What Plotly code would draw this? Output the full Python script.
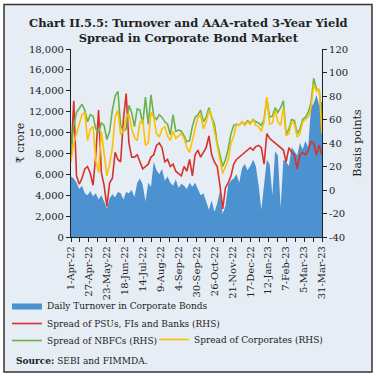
import pandas as pd
import plotly.graph_objects as go

# ---------------- data ----------------
start_date = "2022-04-01"
n_points = 92  # every 4 days, 1-Apr-22 .. 31-Mar-23

turnover = [5800, 5600, 5200, 4600, 4900, 4200, 4000, 4400, 3900, 4200,
            3600, 4000, 3400, 2700, 3700, 4100, 3800, 4300, 4200, 3600,
            4300, 4200, 4500, 3800, 5200, 5600, 5000, 3400, 5200, 4800,
            7200, 6400, 6000, 6500, 5400, 5800, 5200, 4900, 5500, 4700,
            5100, 4900, 4600, 5200, 4800, 5200, 4600, 4000, 4200, 3400,
            2600, 3500, 2400, 3200, 4400, 2200, 3000, 5000, 5400, 5600,
            6000, 5200, 6600, 7000, 6400, 6800, 7400, 6800, 5000, 2600,
            4800, 7400, 7000, 4000, 8200, 7800, 2800, 7400, 7200, 6800,
            8600, 8200, 7800, 9000, 8400, 9200, 8600, 12400, 12800, 13600,
            12600, 13000]

spread_psu = [28, 76, 12, 5, 10, 18, 20, 14, 4, 30,
              68, 15, 4, -14, 6, 10, 32, 26, 24, 60,
              82, 40, 28, 28, 30, 24, 18, 20, 22, 28,
              30, 38, 40, 36, 24, 26, 20, 22, 16, 14,
              12, 20, 16, 26, 12, 30, 34, 28, 32, 36,
              46, 30, 24, 20, 4, -16, 2, 6, 12, 22,
              26, 28, 30, 32, 34, 36, 34, 37, 38, 36,
              22, 48, 44, 42, 40, 38, 36, 34, 24, 36,
              32, 30, 18, 30, 32, 30, 34, 41, 40, 30,
              38, 30]

spread_nbfc = [32, 55, 66, 70, 73, 68, 58, 64, 63, 52,
               49, 57, 55, 43, 50, 68, 80, 84, 55, 50,
               52, 72, 66, 54, 69, 68, 56, 79, 56, 81,
               63, 60, 64, 62, 58, 56, 47, 64, 50, 51,
               50, 46, 41, 42, 54, 62, 64, 68, 58, 62,
               70, 62, 56, 40, 30, 20, 26, 35, 48, 55,
               56, 55, 58, 56, 59, 57, 60, 58, 57, 55,
               60, 78, 62, 63, 70, 66, 70, 76, 47, 52,
               60, 59, 48, 52, 60, 62, 66, 74, 95, 86,
               85, 58]

spread_corp = [24, 40, 48, 55, 64, 66, 42, 52, 54, 25,
               15, 50, 30, 12, 22, 36, 62, 68, 47, 50,
               62, 65, 52, 45, 42, 58, 60, 38, 40, 66,
               62, 48, 45, 52, 54, 46, 42, 50, 44, 46,
               48, 44, 36, 32, 42, 50, 62, 64, 52, 58,
               68, 62, 50, 38, 24, 14, 20, 26, 40, 46,
               56, 55, 58, 55, 58, 56, 60, 55, 54, 50,
               58, 79, 56, 57, 68, 58, 55, 70, 46, 48,
               58, 56, 45, 48, 58, 60, 62, 70, 90, 84,
               86, 48]

tick_labels = ["1-Apr-22", "27-Apr-22", "23-May-22", "18-Jun-22", "14-Jul-22",
               "9-Aug-22", "4-Sep-22", "30-Sep-22", "26-Oct-22", "21-Nov-22",
               "17-Dec-22", "12-Jan-23", "7-Feb-23", "5-Mar-23", "31-Mar-23"]

rhs_ticks = [-40, -20, 0, 20, 40, 60, 80, 100, 120]
rhs_tick_labels = ["-40", "-20", "0", "20", "40", "60", "80", "100", "120"]

names = ["Daily Turnover in Corporate Bonds",
         "Spread of PSUs, FIs and Banks (RHS)",
         "Spread of NBFCs (RHS)",
         "Spread of Corporates (RHS)"]

# ---------------- styling ----------------
BG = "#E6EDF5"
BLUE = "#4D92D0"
RED = "#D7312A"
GREEN = "#6BB24A"
YELLOW = "#FFC000"
FONT = "DejaVu Serif"

dates = pd.date_range(start_date, periods=n_points, freq="4D")

# ticks every 13 days; labels only on every second tick
tick_dates = pd.date_range(start_date, periods=29, freq="13D")
tick_text = []
for k in range(len(tick_dates)):
    tick_text.append(tick_labels[k // 2] if k % 2 == 0 else "")

fig = go.Figure()
fig.add_trace(go.Scatter(x=dates, y=turnover, name=names[0], mode="lines",
                         fill="tozeroy", fillcolor=BLUE,
                         line=dict(width=0, color=BLUE), legend="legend"))
fig.add_trace(go.Scatter(x=dates, y=spread_psu, name=names[1], mode="lines",
                         line=dict(width=1.6, color=RED), yaxis="y2",
                         legend="legend2"))
fig.add_trace(go.Scatter(x=dates, y=spread_nbfc, name=names[2], mode="lines",
                         line=dict(width=1.6, color=GREEN), yaxis="y2",
                         legend="legend3"))
fig.add_trace(go.Scatter(x=dates, y=spread_corp, name=names[3], mode="lines",
                         line=dict(width=1.6, color=YELLOW), yaxis="y2",
                         legend="legend4"))

L, R, T, B = 71, 54, 49, 139
W = H = 376
pw = W - L - R
ph = H - T - B


def px_x(p):
    return (p - L) / pw


def px_y(p):
    return (H - B - p) / ph


leg_common = dict(xanchor="left", yanchor="middle", bgcolor="rgba(0,0,0,0)",
                  font=dict(family=FONT, size=9, color="#222"),
                  orientation="h", itemwidth=30)

fig.update_layout(
    width=W, height=H,
    margin=dict(l=L, r=R, t=T, b=B, autoexpand=False),
    paper_bgcolor="white",
    plot_bgcolor="rgba(0,0,0,0)",
    font=dict(family=FONT, size=10, color="#222"),
    showlegend=True,
    legend=dict(x=px_x(7), y=px_y(305.5), **leg_common),
    legend2=dict(x=px_x(7), y=px_y(323.5), **leg_common),
    legend3=dict(x=px_x(7), y=px_y(340.5), **leg_common),
    legend4=dict(x=px_x(154), y=px_y(339.5), **leg_common),
    xaxis=dict(type="date", range=[dates[0], dates[-1]],
               tickmode="array", tickvals=tick_dates, ticktext=tick_text,
               tickangle=-90, ticks="outside", ticklen=4, tickcolor="#222",
               showline=True, linecolor="#222", linewidth=1.2,
               showgrid=False, zeroline=False,
               tickfont=dict(family=FONT, size=10)),
    yaxis=dict(range=[0, 18000], dtick=2000, tickformat=",d",
               ticks="outside", ticklen=4, tickcolor="#222",
               showline=True, linecolor="#222", linewidth=1.2,
               showgrid=False, zeroline=False,
               tickfont=dict(family=FONT, size=10),
               title=dict(text="₹ crore", standoff=2,
                          font=dict(family=FONT, size=11))),
    yaxis2=dict(range=[-40, 120], tickmode="array", tickvals=rhs_ticks,
                ticktext=rhs_tick_labels, overlaying="y", side="right",
                ticks="outside", ticklen=4, tickcolor="#222",
                showline=True, linecolor="#222", linewidth=1.2,
                showgrid=False, zeroline=False,
                tickfont=dict(family=FONT, size=10),
                title=dict(text="Basis points", standoff=6,
                           font=dict(family=FONT, size=11))),
    shapes=[dict(type="rect", xref="paper", yref="paper",
                 x0=px_x(4), x1=px_x(372), y0=px_y(372), y1=px_y(4.5),
                 fillcolor=BG, line=dict(color="#333", width=1.5),
                 layer="below")],
    annotations=[
        dict(text="<b>Chart II.5.5: Turnover and AAA-rated 3-Year Yield<br>"
                  "Spread in Corporate Bond Market</b>",
             xref="paper", yref="paper", x=px_x(188), y=px_y(30),
             xanchor="center", yanchor="middle", showarrow=False,
             font=dict(family=FONT, size=11.5, color="#222")),
        dict(text="<b>Source:</b> SEBI and FIMMDA.",
             xref="paper", yref="paper", x=px_x(14), y=px_y(361),
             xanchor="left", yanchor="middle", showarrow=False,
             font=dict(family=FONT, size=9, color="#222")),
    ],
)

fig.write_html("out.html",
               config={"displayModeBar": False},
               post_script="document.body.style.margin='0';"
                           "document.body.style.overflow='hidden';")
